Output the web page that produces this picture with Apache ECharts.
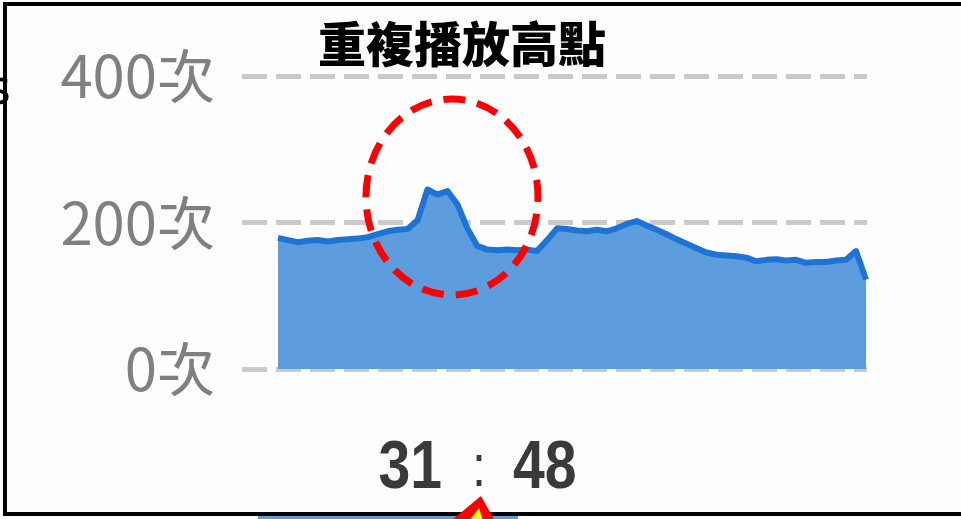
<!DOCTYPE html>
<html>
<head>
<meta charset="utf-8">
<script src="https://cdn.jsdelivr.net/npm/echarts@6/dist/echarts.min.js"></script>
<style>
html,body{margin:0;padding:0;background:#fff;}
#c{width:961px;height:519px;}
</style>
</head>
<body>
<div id="c"></div>
<script>
// --- data ---
var titleText = '重複播放高點';
var timeLabel = ['31', ':', '48'];
var yTicks = [0, 200, 400];
var yUnit = '次';
var categories = [];
for (var k = 1; k <= 60; k++) categories.push('段' + k);
var replays = [179,176,173,175,176,174,176,177,178,180,
               184,188,190,191,203,245,238,243,225,192,
               168,163,162,163,162,163,161,176,192,191,
               189,188,190,188,192,198,202,196,190,184,
               177,171,165,159,156,155,154,152,147,149,
               150,148,149,145,146,146,148,149,161,122];

var chart = echarts.init(document.getElementById('c'), null, {renderer: 'canvas'});
var timeFont = '"Liberation Sans", Arial, sans-serif';
var option = {
  backgroundColor: '#fdfdfd',
  animation: false,
  title: {
    text: titleText,
    left: 457, top: 15, textAlign: 'center',
    textStyle: {fontSize: 48, fontWeight: 900, color: '#000', fontFamily: '"Noto Sans CJK TC", sans-serif'}
  },
  grid: [
    {left: 242, right: 94, top: 76, bottom: 150},
    {left: 278, right: 95, top: 76, bottom: 150}
  ],
  xAxis: [
    {type: 'category', gridIndex: 0, data: categories, show: false},
    {type: 'category', gridIndex: 1, data: categories, boundaryGap: false, show: false}
  ],
  yAxis: [
    {type: 'value', gridIndex: 0, min: yTicks[0], max: yTicks[2], interval: 200,
     axisLine: {show: false}, axisTick: {show: false},
     axisLabel: {margin: 27, color: '#808080', fontSize: 58, fontFamily: '"Noto Sans CJK TC", sans-serif',
       formatter: function (v) { return v + yUnit; }},
     splitLine: {show: true, lineStyle: {color: '#cacaca', width: 5, type: [25, 9]}}},
    {type: 'value', gridIndex: 1, min: yTicks[0], max: yTicks[2], interval: 200, show: false,
     splitLine: {show: false}}
  ],
  series: [{
    type: 'line', xAxisIndex: 1, yAxisIndex: 1, data: replays,
    symbol: 'none', smooth: false, z: 1,
    lineStyle: {color: '#1e74d6', width: 6, join: 'round'},
    areaStyle: {color: '#5e9ddd', opacity: 1}
  }],
  graphic: [
    {type: 'text', left: -14, top: 68, style: {text: 's', fontSize: 48, fill: '#000', fontFamily: 'DejaVu Sans'}, z: 5},
    {type: 'rect', shape: {x: 5, y: 4, width: 990, height: 510}, style: {fill: 'none', stroke: '#000', lineWidth: 4}, z: 10},
    {type: 'ellipse', shape: {cx: 452, cy: 197, rx: 86, ry: 98},
     style: {fill: 'none', stroke: '#ff0000', lineWidth: 7, lineDash: [22, 12]}, z: 20},
    {type: 'text', x: 442, y: 469, scaleX: 0.84, style: {text: timeLabel[0], align: 'right', verticalAlign: 'middle', fontSize: 68, fontWeight: 'bold', fill: '#3a3a3a', fontFamily: timeFont}, z: 20},
    {type: 'text', x: 479, y: 469, scaleX: 0.84, style: {text: timeLabel[1], align: 'center', verticalAlign: 'middle', fontSize: 60, fontWeight: 'normal', fill: '#3a3a3a', fontFamily: timeFont}, z: 20},
    {type: 'text', x: 513, y: 469, scaleX: 0.84, style: {text: timeLabel[2], align: 'left', verticalAlign: 'middle', fontSize: 68, fontWeight: 'bold', fill: '#3a3a3a', fontFamily: timeFont}, z: 20},
    {type: 'rect', shape: {x: 258, y: 516, width: 260, height: 6}, style: {fill: '#5e9ddd'}, z: 8},
    {type: 'polygon', shape: {points: [[481, 496], [440, 530], [500, 530]]}, style: {fill: '#ff0000'}, z: 30},
    {type: 'polygon', shape: {points: [[479, 508], [462, 530], [486, 530]]}, style: {fill: '#ffff00'}, z: 31}
  ]
};
chart.setOption(option);
</script>
</body>
</html>
